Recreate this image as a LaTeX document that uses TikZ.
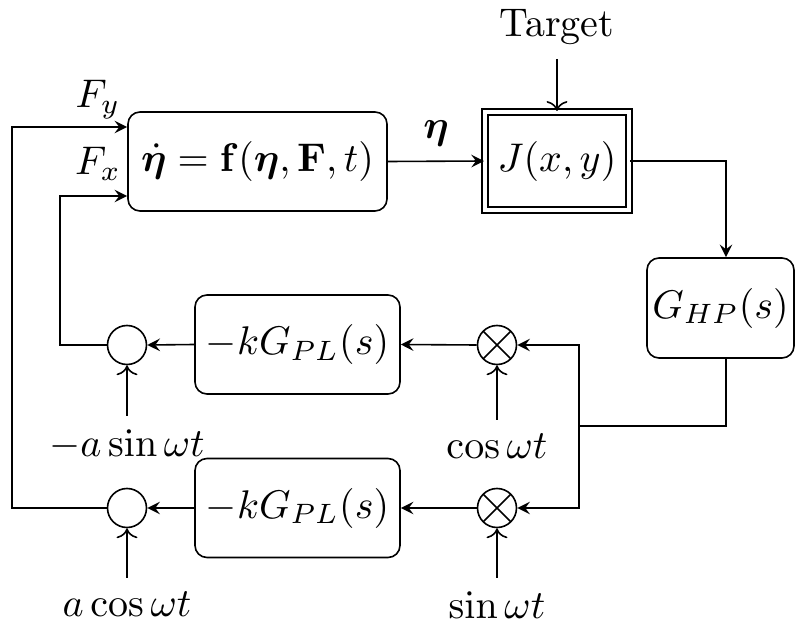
\documentclass[tikz,border=0pt]{standalone}
\usepackage{amsmath,bm}
\usetikzlibrary{arrows.meta,calc}
\begin{document}
\begin{tikzpicture}[x=0.25pt,y=-0.25pt,
  blk/.style={draw, rounded corners=3pt, inner sep=0pt},
  circ/.style={draw, circle, minimum size=9.75pt, inner sep=0pt},
  mult/.style={circ, path picture={\draw (path picture bounding box.north west)--(path picture bounding box.south east) (path picture bounding box.north east)--(path picture bounding box.south west);}},
  fl/.style={-stealth},
  op/.style={->}]
\useasboundingbox (0,0) rectangle (795,621);
\node[blk, minimum width=64.75pt, minimum height=24.75pt] (sys) at (257.5,161.5) {$\dot{\bm{\eta}} = \mathbf{f}(\bm{\eta},\mathbf{F},t)$};
\node[draw, double, double distance=1.1pt, minimum width=36.1pt, minimum height=24.6pt, inner sep=0pt] (J) at (557,161) {$J(x,y)$};
\node (tgt) at (557,27) {Target};
\node[blk, minimum width=36.75pt, minimum height=25pt] (G) at (720.5,308) {$G_{HP}(s)$};
\node[blk, minimum width=51.25pt, minimum height=24.75pt] (k1) at (297.5,344.5) {$-kG_{PL}(s)$};
\node[blk, minimum width=51.25pt, minimum height=24.75pt] (k2) at (297.5,508) {$-kG_{PL}(s)$};
\node[circ] (s1) at (127,345) {};
\node[circ] (s2) at (127,508) {};
\node[mult] (m1) at (497,345) {};
\node[mult] (m2) at (497,508) {};
\node (l1) at (127,445) {$-a\sin\omega t$};
\node (l2) at (497,446) {$\cos\omega t$};
\node (l3) at (127,604) {$a\cos\omega t$};
\node (l4) at (497,605) {$\sin\omega t$};
\node (fy) at (98,100) {$F_y$};
\node (fx) at (98,164) {$F_x$};
\node (eta) at (436,133) {$\bm{\eta}$};
\coordinate (gx) at (726,0);
\coordinate (sp) at (579,426);
\coordinate (ly) at (12,127);
\coordinate (lx) at (60,196);
\draw[fl] (sys.east) -- (J.west);
\draw[op] (tgt.south) -- (J.north);
\draw[fl] (J.east) -| (gx |- G.north);
\draw[fl] (gx |- G.south) |- (sp) |- (m1.east);
\draw[fl] (sp) |- (m2.east);
\draw[fl] (m1.west) -- (k1.east);
\draw[fl] (m2.west) -- (k2.east);
\draw[fl] (k1.west) -- (s1.east);
\draw[fl] (k2.west) -- (s2.east);
\draw[op] (l1.north) -- (s1.south);
\draw[op] (l2.north) -- (m1.south);
\draw[op] (l3.north) -- (s2.south);
\draw[op] (l4.north) -- (m2.south);
\draw[fl] (s1.west) -| (lx) -- (sys.west |- lx);
\draw[fl] (s2.west) -| (ly) -- (sys.west |- ly);
\end{tikzpicture}
\end{document}
